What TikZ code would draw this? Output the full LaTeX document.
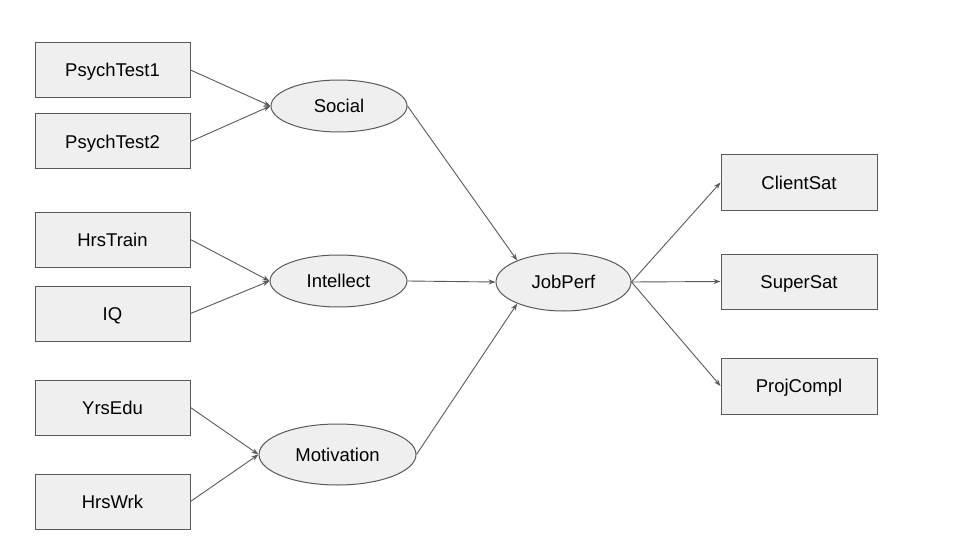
\documentclass[tikz,border=0pt]{standalone}
\usepackage{fontspec}
\setmainfont{Liberation Sans}
\usetikzlibrary{shapes.geometric,arrows.meta}
\definecolor{boxfill}{HTML}{EFEFEF}
\definecolor{boxline}{HTML}{595959}
\tikzset{
  lbl/.style={font=\fontsize{18.5}{22}\selectfont, text height=13.2pt, text depth=-1.5pt},
  obs/.style={draw=boxline, fill=boxfill, line width=1pt, rectangle, minimum width=155pt, minimum height=55pt, inner sep=0pt, lbl},
  lat/.style={draw=boxline, fill=boxfill, line width=1pt, ellipse, inner sep=0pt, lbl},
  conn/.style={draw=boxline, line width=0.9pt, -{Stealth[length=7pt,width=5pt]}}
}
\begin{document}
\begin{tikzpicture}[x=1pt,y=-1pt]
\useasboundingbox (0,0) rectangle (960,540);
\node[obs] (p1) at (112.5,70) {PsychTest1};
\node[obs] (p2) at (112.5,141.5) {PsychTest2};
\node[obs] (hr) at (112.5,239.5) {HrsTrain};
\node[obs] (iq) at (112.5,313.5) {IQ};
\node[obs] (ye) at (112.5,407.5) {YrsEdu};
\node[obs] (hw) at (112.5,501.5) {HrsWrk};
\node[obs, minimum width=156pt] (cs) at (799,182.5) {ClientSat};
\node[obs, minimum width=156pt] (ss) at (799,281.5) {SuperSat};
\node[obs, minimum width=156pt, minimum height=56pt] (pc) at (799,386) {ProjCompl};
\node[lat, minimum width=136pt, minimum height=52pt] (so) at (339,106) {Social};
\node[lat, minimum width=137pt, minimum height=52pt] (in) at (338.5,281) {Intellect};
\node[lat, minimum width=157pt, minimum height=61pt] (mo) at (337.5,454.5) {Motivation};
\node[lat, minimum width=135pt, minimum height=58pt] (jp) at (563.5,282) {JobPerf};
\draw[conn] (p1.east) -- (so.west);
\draw[conn] (p2.east) -- (so.west);
\draw[conn] (hr.east) -- (in.west);
\draw[conn] (iq.east) -- (in.west);
\draw[conn] (ye.east) -- (mo.west);
\draw[conn] (hw.east) -- (mo.west);
\draw[conn] (so.east) -- (jp.155);
\draw[conn] (in.east) -- (jp.west);
\draw[conn] (mo.east) -- (jp.205);
\draw[conn] (jp.east) -- (cs.west);
\draw[conn] (jp.east) -- (ss.west);
\draw[conn] (jp.east) -- (pc.west);
\end{tikzpicture}
\end{document}
